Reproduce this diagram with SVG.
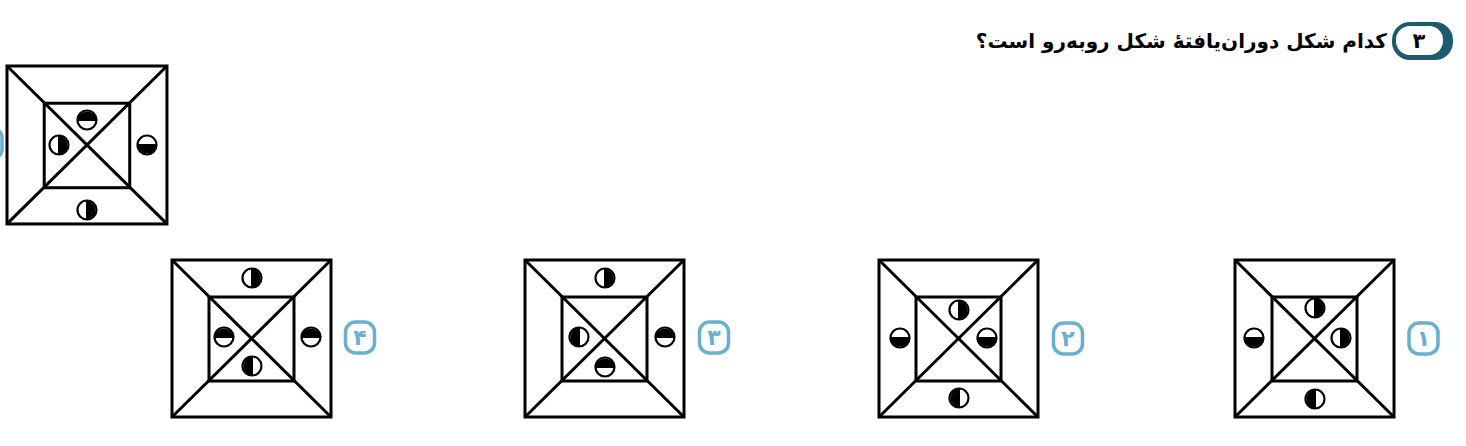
<svg xmlns="http://www.w3.org/2000/svg" width="1466" height="446" viewBox="0 0 1466 446">
<style>
.ln{fill:none;stroke:#000;stroke-width:3}
.lbl{fill:#fff;stroke:#6ab0cc;stroke-width:3.5}
.lt{font-family:"DejaVu Sans",sans-serif;font-weight:bold;font-size:22px;fill:#6ab0cc;text-anchor:middle}
.title{font-family:"DejaVu Sans",sans-serif;font-weight:bold;font-size:20px;fill:#000;direction:rtl}
</style>
<defs>
<g id="frame">
<rect class="ln" x="0" y="0" width="159" height="157"/>
<rect class="ln" x="37" y="37" width="85" height="84"/>
<line class="ln" x1="0" y1="0" x2="159" y2="157"/>
<line class="ln" x1="159" y1="0" x2="0" y2="157"/>
</g>
<g id="cR"><circle r="9.5" fill="#fff" stroke="#000" stroke-width="2.2"/><path d="M-1,-9.5A9.5,9.5 0 0 1 -1,9.5Z" fill="#000"/></g>
<g id="cL"><circle r="9.5" fill="#fff" stroke="#000" stroke-width="2.2"/><path d="M1,-9.5A9.5,9.5 0 0 0 1,9.5Z" fill="#000"/></g>
<g id="cT"><circle r="9.5" fill="#fff" stroke="#000" stroke-width="2.2"/><path d="M-9.5,1A9.5,9.5 0 0 1 9.5,1Z" fill="#000"/></g>
<g id="cB"><circle r="9.5" fill="#fff" stroke="#000" stroke-width="2.2"/><path d="M-9.5,-1A9.5,9.5 0 0 0 9.5,-1Z" fill="#000"/></g>
</defs>
<rect width="1466" height="446" fill="#fff"/>

<g id="header">
<rect x="1392" y="22" width="61" height="38" rx="18" fill="#1c5b6c"/>
<rect x="1396" y="26" width="47" height="29" rx="14" fill="#fff"/>
<text x="1419" y="48" font-family="DejaVu Sans,sans-serif" font-weight="bold" font-size="21" text-anchor="middle" fill="#000">۳</text>
<text class="title" x="1387" y="48" text-anchor="start">کدام شکل دوران‌یافتهٔ شکل روبه‌رو است؟</text>
</g>

<g id="edge-label">
<rect class="lbl" x="-27" y="128" width="29" height="31" rx="10"/>
</g>

<g id="reference">
<g transform="translate(7,66) scale(1.006,1.006)"><use href="#frame"/></g>
<use href="#cT" x="87" y="120"/>
<use href="#cR" x="59" y="145"/>
<use href="#cB" x="147" y="145"/>
<use href="#cR" x="87" y="210"/>
</g>

<g id="option4">
<use href="#frame" x="172" y="260"/>
<use href="#cR" x="252" y="278"/>
<use href="#cT" x="224" y="337"/>
<use href="#cT" x="311" y="337"/>
<use href="#cL" x="252" y="366"/>
<rect class="lbl" x="345.5" y="322" width="29" height="31" rx="10"/>
<text class="lt" x="360" y="345">۴</text>
</g>

<g id="option3">
<use href="#frame" x="525" y="260"/>
<use href="#cR" x="605" y="278"/>
<use href="#cL" x="579" y="337"/>
<use href="#cT" x="665" y="337"/>
<use href="#cT" x="605" y="367"/>
<rect class="lbl" x="699.5" y="322" width="29" height="31" rx="10"/>
<text class="lt" x="714" y="345">۳</text>
</g>

<g id="option2">
<use href="#frame" x="879" y="260"/>
<use href="#cR" x="959" y="310"/>
<use href="#cB" x="900" y="338"/>
<use href="#cB" x="987" y="338"/>
<use href="#cL" x="959" y="398"/>
<rect class="lbl" x="1053.5" y="323" width="29" height="31" rx="10"/>
<text class="lt" x="1068" y="346">۲</text>
</g>

<g id="option1">
<use href="#frame" x="1235" y="260"/>
<use href="#cR" x="1315" y="308"/>
<use href="#cB" x="1254" y="338"/>
<use href="#cR" x="1341" y="338"/>
<use href="#cL" x="1315" y="399"/>
<rect class="lbl" x="1409" y="323" width="29" height="31" rx="10"/>
<text class="lt" x="1423.5" y="346">۱</text>
</g>
</svg>
